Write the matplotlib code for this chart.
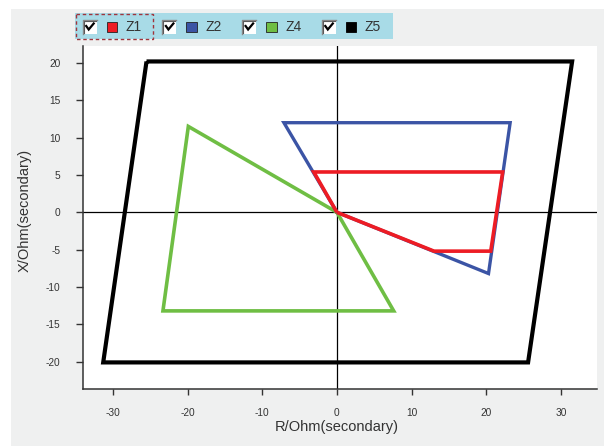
import matplotlib
matplotlib.use("Agg")
import matplotlib.pyplot as plt
from matplotlib.patches import Rectangle
from matplotlib.lines import Line2D

plt.rcParams['font.family'] = ['Liberation Sans', 'DejaVu Sans']

# Zone characteristics in the R-X impedance plane (secondary ohms)
zone_names = ["Z1", "Z2", "Z4", "Z5"]
zone_colors = ["#ed1c24", "#3b54a5", "#6fbe44", "#000000"]

z1_r = [0, -3.1, 22.2, 20.6, 13.0, 0]
z1_x = [0, 5.4, 5.4, -5.2, -5.2, 0]

z2_r = [0, -7.1, 23.2, 20.3, 0]
z2_x = [0, 12.0, 12.0, -8.2, 0]

z4_r = [0, -19.9, -23.3, 7.6, 0]
z4_x = [0, 11.5, -13.2, -13.2, 0]

z5_r = [-25.5, 31.5, 25.6, -31.3, -25.5]
z5_x = [20.2, 20.2, -20.1, -20.1, 20.2]

x_ticks = [-30, -20, -10, 0, 10, 20, 30]
y_ticks = [20, 15, 10, 5, 0, -5, -10, -15, -20]

W, H = 604, 446
fig = plt.figure(figsize=(W / 100, H / 100), dpi=100, facecolor="white")

# panel background and legend strip drawn in pixel coordinates
bg = fig.add_axes([0, 0, 1, 1], zorder=0)
bg.set_xlim(0, W)
bg.set_ylim(H, 0)
bg.axis("off")
bg.add_patch(Rectangle((11, 9), W - 11, H - 9, facecolor="#eff0f0", edgecolor="none"))
bg.add_patch(Rectangle((75, 13.3), 318, 26, facecolor="#a8dbe7", edgecolor="none"))

item_x0 = 82.7
item_step = 79.7
for i, (name, col) in enumerate(zip(zone_names, zone_colors)):
    x = item_x0 + i * item_step
    # checkbox
    bg.add_patch(Rectangle((x, 19.5), 14, 14, facecolor="white", edgecolor="none"))
    bg.add_line(Line2D([x, x, x + 14], [33.5, 19.5, 19.5], color="#8a8a8a", lw=1.0))
    bg.add_line(Line2D([x + 1, x + 1, x + 13], [32.5, 20.5, 20.5], color="#5a5a5a", lw=0.8))
    bg.add_line(Line2D([x + 3.5, x + 6, x + 11], [26, 29.5, 23.5], color="black", lw=1.6,
                       solid_joinstyle="miter"))
    # colour swatch
    bg.add_patch(Rectangle((x + 24, 22), 10.5, 10, facecolor=col,
                           edgecolor="#222222" if col != "#000000" else "black", lw=0.6))
    bg.text(x + 43, 27.2, name, fontsize=10, color="#333333", ha="left", va="center")

# focus outline around the first item
bg.add_patch(Rectangle((75.5, 14), 77.5, 24.7, facecolor="none", edgecolor="#a0343c",
                       lw=1.0, linestyle=(0, (2.5, 2))))

ax = fig.add_axes([82.6 / W, 1 - 389 / H, (597 - 82.6) / W, (389 - 46) / H], zorder=1)
ax.set_facecolor("white")
ax.set_xlim(-34.06, 34.83)
ax.set_ylim(-23.66, 22.27)

ax.axhline(0, color="black", lw=0.9, zorder=1)
ax.axvline(0, color="black", lw=0.9, zorder=1)

series = [(z5_r, z5_x, 3.0), (z4_r, z4_x, 2.6), (z2_r, z2_x, 2.4), (z1_r, z1_x, 2.6)]
cols = [zone_colors[3], zone_colors[2], zone_colors[1], zone_colors[0]]
for (r, xv, lw), c in zip(series, cols):
    ax.plot(r, xv, color=c, lw=lw, solid_joinstyle="miter", solid_capstyle="butt", zorder=3)

ax.set_xticks(x_ticks)
ax.set_yticks(y_ticks)
ax.set_xticklabels([str(v) for v in x_ticks])
ax.set_yticklabels([str(v) for v in y_ticks])
ax.tick_params(axis="x", direction="out", length=4, width=1, color="#333333",
               labelsize=7.3, labelcolor="#333333", pad=9.5)
ax.tick_params(axis="y", direction="out", length=5, width=1, color="#333333",
               labelsize=7.3, labelcolor="#333333", pad=11)

for s in ["top", "right"]:
    ax.spines[s].set_visible(False)
for s in ["left", "bottom"]:
    ax.spines[s].set_color("#333333")
    ax.spines[s].set_linewidth(1.1)

fig.text(336.9 / W, 1 - 427 / H, "R/Ohm(secondary)", fontsize=10.5, color="#333333",
         ha="center", va="center")
fig.text(25 / W, 1 - 210 / H, "X/Ohm(secondary)", fontsize=10.5, color="#333333",
         ha="center", va="center", rotation=90)

fig.savefig("out.png", dpi=100, facecolor=fig.get_facecolor())
